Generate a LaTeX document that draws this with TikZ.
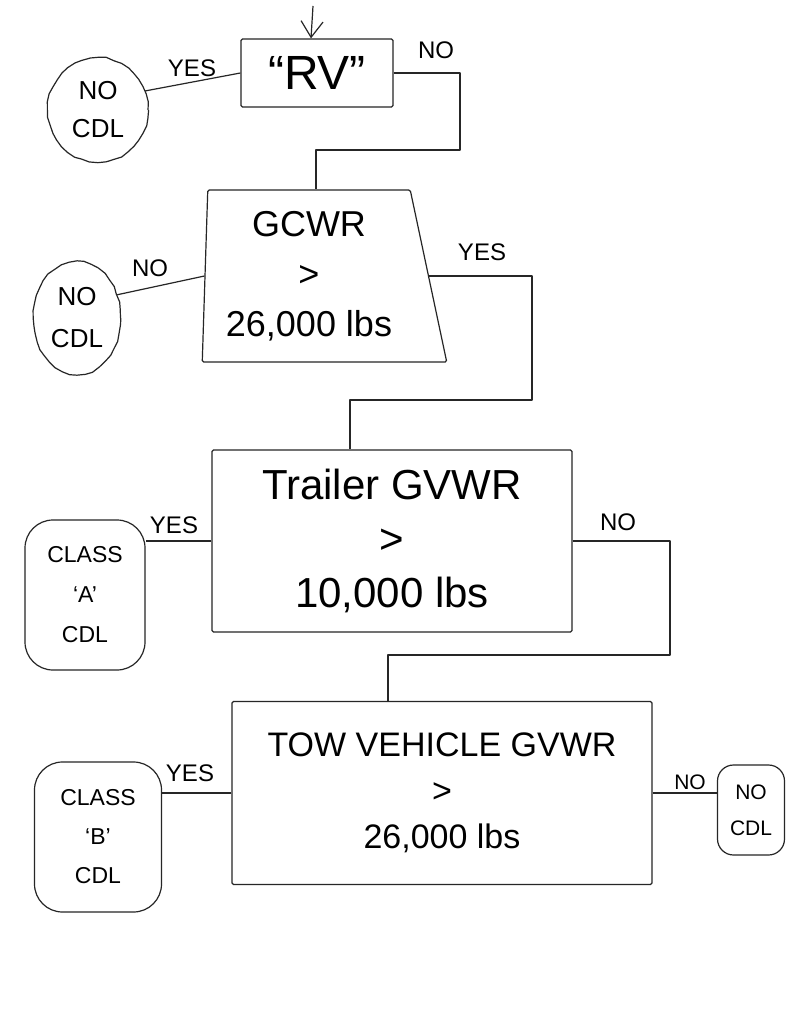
\documentclass[tikz,border=0pt]{standalone}
\usepackage{fontspec}
\setmainfont{Liberation Sans}
\usetikzlibrary{shapes.geometric,arrows.meta,decorations.pathmorphing}
\begin{document}
\begin{tikzpicture}[x=1pt,y=-1pt,
  ink/.style={draw=black!85, line width=1.2pt},
  wobble/.style={decorate, decoration={random steps, segment length=8pt, amplitude=0.7pt}},
  qbox/.style={ink, rectangle, rounded corners=1.5pt, align=center, inner sep=0pt},
  endbox/.style={ink, rectangle, rounded corners=28pt, align=center, inner sep=0pt},
  endoval/.style={ink, wobble, ellipse, align=center, inner sep=0pt},
  lab/.style={font=\fontsize{24}{24}\selectfont, inner sep=0pt},
  wire/.style={ink, line join=round}
]
\path[use as bounding box, fill=white] (0,0) rectangle (793,1024);

% decision boxes
\node[qbox, minimum width=152, minimum height=68, font=\fontsize{48}{48}\selectfont] (rv) at (317,73) {“RV”};
\node[qbox, trapezium, trapezium left angle=88, trapezium right angle=77, trapezium stretches=true,
      minimum width=245, minimum height=172, font=\fontsize{36}{50}\selectfont] (gcwr) at (309,276)
      {GCWR\\>\\26,000 lbs};
\node[qbox, minimum width=360, minimum height=182, font=\fontsize{42}{54}\selectfont] (trailer) at (392,541)
      {Trailer GVWR\\>\\10,000 lbs};
\node[qbox, minimum width=420, minimum height=183, font=\fontsize{34}{46}\selectfont] (tow) at (442,793)
      {TOW VEHICLE GVWR\\>\\26,000 lbs};

% outcomes
\node[endoval, minimum width=100, minimum height=104, font=\fontsize{26}{38}\selectfont] (nocdl1) at (98,110) {NO\\CDL};
\node[endoval, minimum width=87, minimum height=113, font=\fontsize{26}{42}\selectfont] (nocdl2) at (77,318) {NO\\CDL};
\node[endbox, minimum width=120, minimum height=150, font=\fontsize{23}{40}\selectfont] (classA) at (85,595) {CLASS\\‘A’\\CDL};
\node[endbox, minimum width=127, minimum height=150, font=\fontsize{23}{39}\selectfont] (classB) at (98,837) {CLASS\\‘B’\\CDL};
\node[endbox, rounded corners=16pt, minimum width=67, minimum height=90, font=\fontsize{21}{36}\selectfont] (nocdl3) at (751,810) {NO\\CDL};

% entry arrow
\coordinate (start) at (313,6);
\draw[wire, -{Straight Barb[length=16pt,width=22pt]}] (start) -- ([xshift=-6pt]rv.north);

% RV
\draw[wire] (rv.west) -- (nocdl1.22);
\node[lab] (l1) at (192,68) {YES};
\draw[wire] (rv.east) -| (460,150) -| ([xshift=7pt]gcwr.north);
\node[lab] (l2) at (436,50) {NO};

% GCWR
\draw[wire] (gcwr.west) -- (nocdl2.30);
\node[lab] (l3) at (150,268) {NO};
\draw[wire] (gcwr.east) -| (532,400) -| ([xshift=-42pt]trailer.north);
\node[lab] (l4) at (482,252) {YES};

% Trailer
\draw[wire] (trailer.west) -- (classA.east |- trailer.west);
\node[lab] (l5) at (174,525) {YES};
\draw[wire] (trailer.east) -| (670,655) -| ([xshift=-54pt]tow.north);
\node[lab] (l6) at (618,522) {NO};

% Tow vehicle
\draw[wire] (tow.west) -- (classB.east |- tow.west);
\node[lab] (l7) at (190,773) {YES};
\draw[wire] (tow.east) -- (nocdl3.west |- tow.east);
\node[lab, font=\fontsize{21}{21}\selectfont] (l8) at (690,782) {NO};
\end{tikzpicture}
\end{document}
